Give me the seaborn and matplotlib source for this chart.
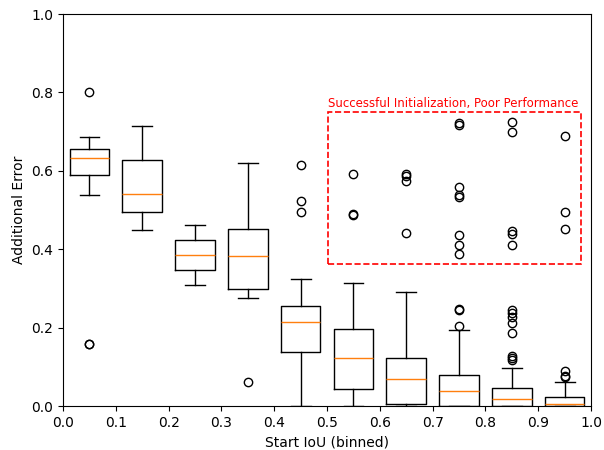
import matplotlib
matplotlib.use("Agg")
import matplotlib.pyplot as plt
import matplotlib.patches as mpatches
import seaborn as sns

sns.reset_orig()

positions = [0.05, 0.15, 0.25, 0.35, 0.45, 0.55, 0.65, 0.75, 0.85, 0.95]
whis_lo = [0.537, 0.450, 0.308, 0.276, 0.0, 0.0, 0.0, 0.0, 0.0, 0.0]
q1 = [0.590, 0.495, 0.346, 0.298, 0.138, 0.043, 0.006, 0.0, 0.0, 0.0]
med = [0.633, 0.540, 0.385, 0.383, 0.215, 0.122, 0.069, 0.038, 0.017, 0.006]
q3 = [0.656, 0.628, 0.423, 0.452, 0.254, 0.197, 0.123, 0.078, 0.045, 0.024]
whis_hi = [0.687, 0.715, 0.461, 0.621, 0.325, 0.315, 0.290, 0.193, 0.098, 0.060]
fliers = [
    [0.800, 0.157, 0.159],
    [],
    [],
    [0.060],
    [0.614, 0.523, 0.495],
    [0.593, 0.490, 0.486],
    [0.593, 0.587, 0.575, 0.442],
    [0.723, 0.718, 0.559, 0.537, 0.532, 0.435, 0.411, 0.387, 0.247, 0.245, 0.204],
    [0.724, 0.700, 0.446, 0.440, 0.411, 0.245, 0.238, 0.228, 0.213, 0.185, 0.128, 0.122, 0.118],
    [0.690, 0.495, 0.451, 0.089, 0.077, 0.073],
]
xticks = [0.0, 0.1, 0.2, 0.3, 0.4, 0.5, 0.6, 0.7, 0.8, 0.9, 1.0]
yticks = [0.0, 0.2, 0.4, 0.6, 0.8, 1.0]
annot_text = "Successful Initialization, Poor Performance"

stats = []
for i in range(len(positions)):
    stats.append(dict(whislo=whis_lo[i], q1=q1[i], med=med[i], q3=q3[i],
                      whishi=whis_hi[i], fliers=fliers[i]))

fig = plt.figure(figsize=(6.04, 4.5), dpi=100)
ax = fig.add_axes([63/604, 1-406/450, (591-63)/604, (406-14)/450])
ax.bxp(stats, positions=positions, widths=0.075, manage_ticks=False)

rect = mpatches.Rectangle((0.502, 0.362), 0.479, 0.389, fill=False,
                          edgecolor="red", linestyle="--", linewidth=1.2)
ax.add_patch(rect)
ax.text(0.501, 0.756, annot_text, color="red", fontsize=8.5, ha="left", va="bottom")

ax.set_xlim(0, 1)
ax.set_ylim(0, 1)
ax.set_xticks(xticks)
ax.set_yticks(yticks)
ax.set_xlabel("Start IoU (binned)")
ax.set_ylabel("Additional Error")

fig.savefig("out.png", dpi=100)
